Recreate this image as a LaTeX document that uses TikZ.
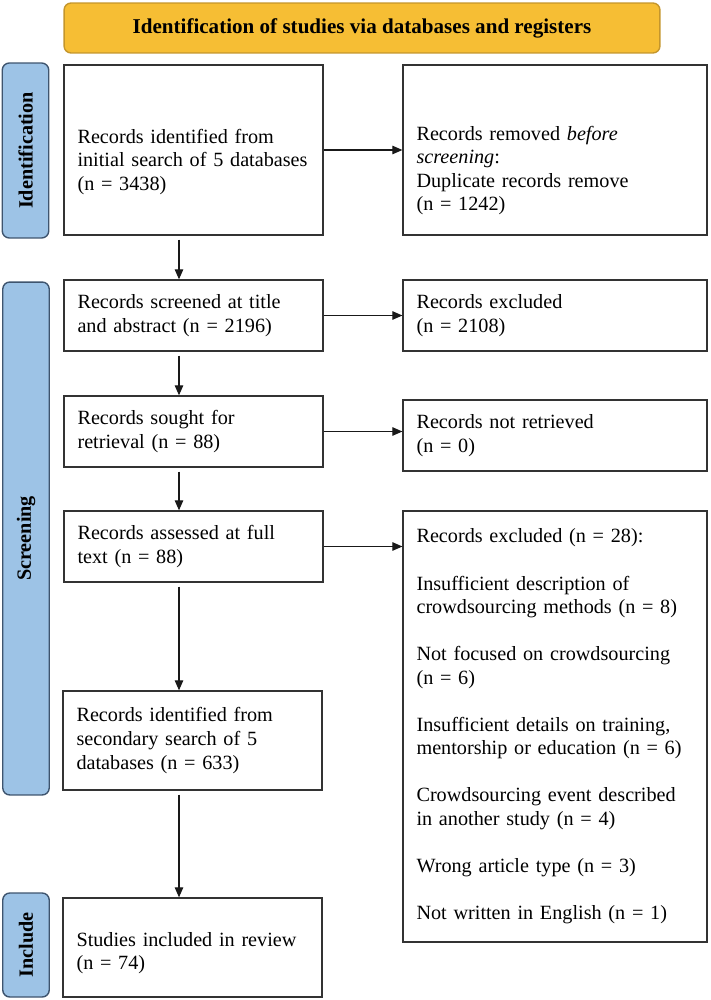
\documentclass[tikz,border=0pt]{standalone}
\usepackage{fontspec}
\setmainfont{Liberation Serif}
\usetikzlibrary{arrows.meta,positioning,calc}
\definecolor{hdrfill}{RGB}{246,190,52}
\definecolor{hdrline}{RGB}{196,150,44}
\definecolor{phfill}{RGB}{157,195,230}
\definecolor{phline}{RGB}{62,84,110}
\tikzset{
  rec/.style   = { draw=black!80, line width=0.75pt, align=left, inner xsep=2.7mm,
    inner ysep=0pt, text width=#1, font=\fontsize{11.5}{13.4}\selectfont },
  lrec/.style  = { rec=4.64cm },
  rrec/.style  = { rec=5.54cm },
  phase/.style = { draw=phline, fill=phfill, line width=0.8pt, rounded corners=4pt,
    rotate=90, minimum height=0.93cm, inner sep=0pt,
    font=\fontsize{11.5}{13}\selectfont\bfseries },
  hdr/.style   = { draw=hdrline, fill=hdrfill, line width=0.8pt, rounded corners=4pt,
    minimum width=11.92cm, minimum height=1cm,
    font=\fontsize{12}{14}\selectfont\bfseries },
  arr/.style   = { -{Triangle[length=2mm,width=1.7mm]}, line width=0.6pt, black!90 }
}

\begin{document}
\begin{tikzpicture}[x=0.02cm,y=-0.02cm]
  \useasboundingbox (0,0) rectangle (710,1000);
  % header and phases
  \node[hdr] (top) at (362,28) {Identification of studies via databases and registers};
  \node[phase, minimum width=3.5cm]   (idph)  at (25.5,150.5) {Identification};
  \node[phase, minimum width=10.26cm] (scrph) at (26,538.5) {Screening};
  \node[phase, minimum width=2.08cm]  (incph) at (26,945) {Include};
  % left column
  \node[lrec, minimum height=3.4cm]  (b1) at (193.5,150)   {\rule{0pt}{7.5mm}Records identified from\\initial search of 5 databases\\(n = 3438)};
  \node[lrec, minimum height=1.42cm] (b2) at (193.5,315.5) {Records screened at title\\and abstract (n = 2196)};
  \node[lrec, minimum height=1.42cm] (b3) at (193.5,431.5) {Records sought for\\retrieval (n = 88)};
  \node[lrec, minimum height=1.42cm] (b4) at (193.5,546.5) {Records assessed at full\\text (n = 88)};
  \node[lrec, minimum height=1.98cm] (b5) at (192.5,740.5) {Records identified from\\secondary search of 5\\databases (n = 633)};
  \node[lrec, minimum height=1.98cm] (b6) at (192.5,947.5) {\rule{0pt}{5mm}Studies included in review\\(n = 74)};
  % right column
  \node[rrec, minimum height=3.4cm]  (r1) at (555,150)   {\rule{0pt}{11mm}Records removed \textit{before}\\\textit{screening}:\\Duplicate records remove\\(n = 1242)};
  \node[rrec, minimum height=1.42cm] (r2) at (555,315.5) {Records excluded\\(n = 2108)};
  \node[rrec, minimum height=1.42cm] (r3) at (555,435.5) {Records not retrieved\\(n = 0)};
  \node[rrec, minimum height=8.62cm] (r4) at (555,726.5) {Records excluded (n = 28):\\[13.4pt]
    Insufficient description of\\crowdsourcing methods (n = 8)\\[13.4pt]
    Not focused on crowdsourcing\\(n = 6)\\[13.4pt]
    Insufficient details on training,\\mentorship or education (n = 6)\\[13.4pt]
    Crowdsourcing event described\\in another study (n = 4)\\[13.4pt]
    Wrong article type (n = 3)\\[13.4pt]
    Not written in English (n = 1)};
  % connectors
  \coordinate (col) at (179,0);
  \foreach \a/\b in {b1/b2,b2/b3,b3/b4,b4/b5,b5/b6}
    \draw[arr, shorten <=0.8mm] (\a.south -| col) -- (\b.north -| col);
  \foreach \a/\b in {b1/r1,b2/r2,b3/r3,b4/r4}
    \draw[arr] (\a.east) -- (\a.east -| \b.west);
\end{tikzpicture}
\end{document}
